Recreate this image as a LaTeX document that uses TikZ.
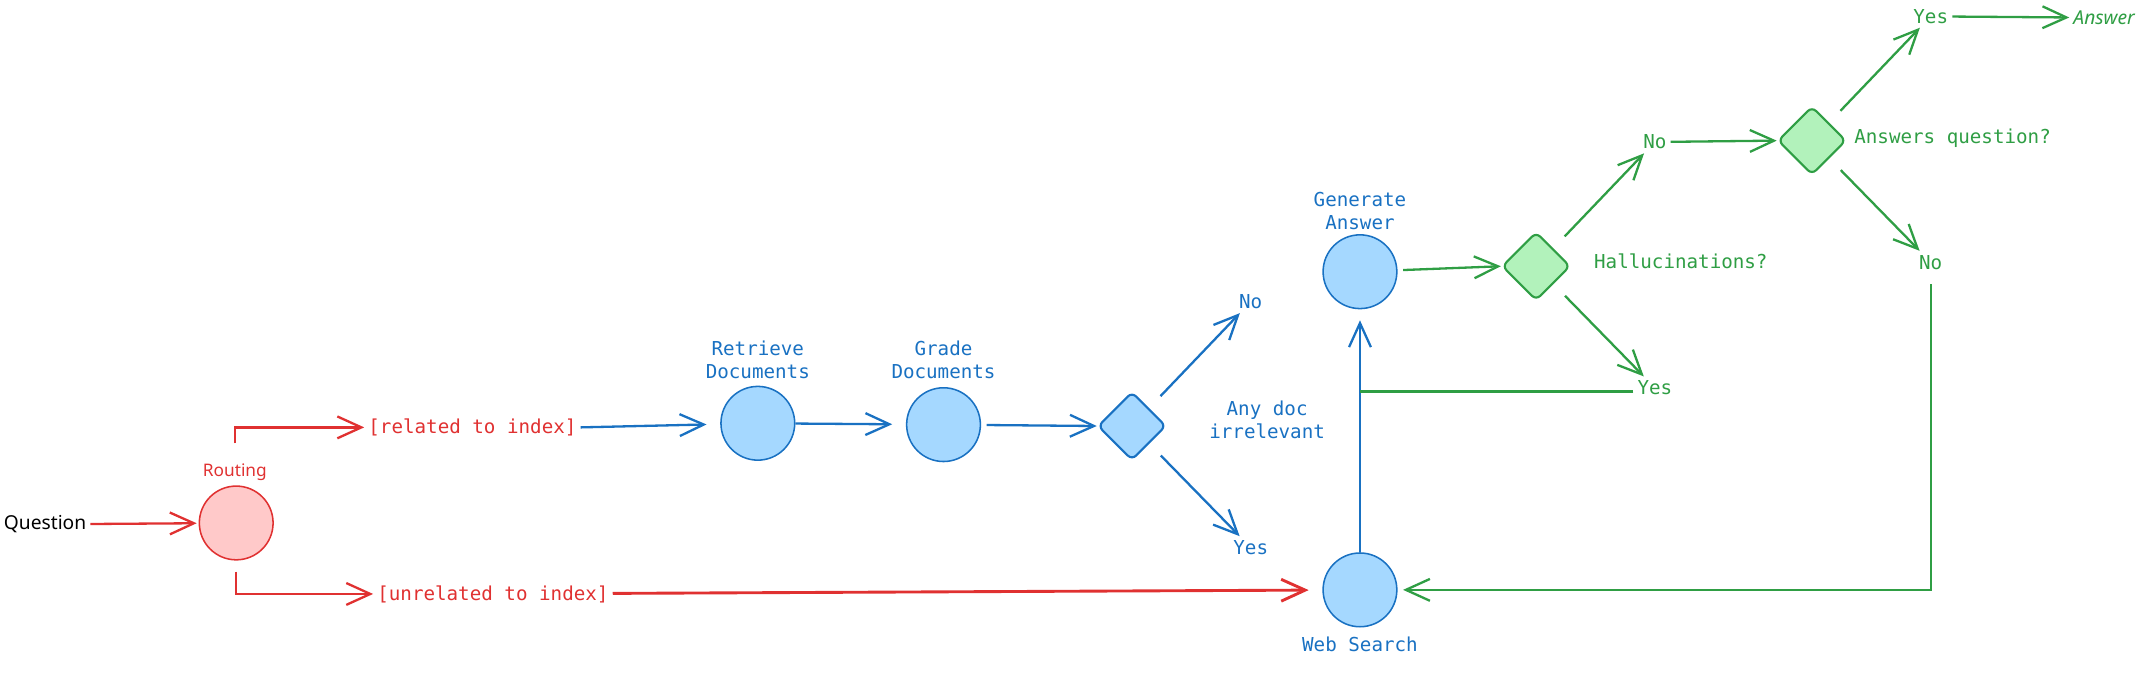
\documentclass[tikz,border=0pt]{standalone}
\usepackage{fontspec}
\setmonofont{DejaVu Sans Mono}
\newfontfamily\handfont{Noto Sans}
\usetikzlibrary{arrows.meta,shapes.geometric}
\definecolor{exred}{HTML}{E03131}
\definecolor{exredfill}{HTML}{FFC9C9}
\definecolor{exblue}{HTML}{1971C2}
\definecolor{exbluefill}{HTML}{A5D8FF}
\definecolor{exgreen}{HTML}{2F9E44}
\definecolor{exgreenfill}{HTML}{B2F2BB}
\tikzset{
  flow/.style={line width=1.2pt, -{Straight Barb[length=4.4mm,width=4mm]}},
  redflow/.style={flow, draw=exred},
  blueflow/.style={flow, draw=exblue},
  greenflow/.style={flow, draw=exgreen},
  state/.style={circle, minimum size=1.35cm, inner sep=0pt, line width=0.8pt},
  check/.style={diamond, minimum size=1.25cm, inner sep=0pt, rounded corners=3pt, line width=1.1pt},
  lbl/.style={font=\ttfamily\fontsize{10}{12}\selectfont, align=center, inner sep=2pt},
  hand/.style={font=\handfont\fontsize{10}{12}\selectfont, inner sep=2pt}
}
\begin{document}
\begin{tikzpicture}[x=0.025cm,y=-0.025cm]
  \useasboundingbox (0,0) rectangle (1568,497);

  % Routing step
  \node[hand, text=black] (question) at (33,384) {Question};
  \node[state, draw=exred, fill=exredfill] (routing) at (173,383) {};
  \node[hand, text=exred, font=\handfont\fontsize{9}{11}\selectfont] (routinglbl) at (172,346) {Routing};
  \node[lbl, text=exred] (related) at (346,313) {[related to index]};
  \node[lbl, text=exred] (unrelated) at (361,435) {[unrelated to index]};

  % Retrieval and grading
  \node[state, draw=exblue, fill=exbluefill] (retrieve) at (555,310) {};
  \node[lbl, text=exblue] at (555,263.5) {Retrieve\\Documents};
  \node[state, draw=exblue, fill=exbluefill] (grade) at (691,311) {};
  \node[lbl, text=exblue] at (691,263.5) {Grade\\Documents};
  \node[check, draw=exblue, fill=exbluefill] (dgrade) at (829,312) {};
  \node[lbl, text=exblue] at (928,307.5) {Any doc\\irrelevant};
  \node[lbl, text=exblue] (noA) at (916,221) {No};
  \node[lbl, text=exblue] (yesA) at (916,401) {Yes};

  % Web search and generation
  \node[state, draw=exblue, fill=exbluefill] (web) at (996,432) {};
  \node[lbl, text=exblue] at (996,472) {Web Search};
  \node[state, draw=exblue, fill=exbluefill] (gen) at (996,199) {};
  \node[lbl, text=exblue] at (996,154.5) {Generate\\Answer};

  % Hallucination check
  \node[check, draw=exgreen, fill=exgreenfill] (dhal) at (1125,195) {};
  \node[lbl, text=exgreen] at (1231,191) {Hallucinations?};
  \node[lbl, text=exgreen] (noH) at (1212,104) {No};
  \node[lbl, text=exgreen] (yesH) at (1212,284) {Yes};

  % Answer check
  \node[check, draw=exgreen, fill=exgreenfill] (dans) at (1327,103) {};
  \node[lbl, text=exgreen] at (1430,101) {Answers question?};
  \node[lbl, text=exgreen] (yesQ) at (1414,12) {Yes};
  \node[lbl, text=exgreen] (noQ) at (1414,192) {No};
  \node[hand, text=exgreen, font=\handfont\itshape\fontsize{10}{12}\selectfont] (answer) at (1541,13) {Answer};

  % Red connectors
  \draw[redflow, shorten >=1pt] (question) -- (routing);
  \draw[redflow, shorten <=0.3cm] (routinglbl.north) |- (related.west);
  \draw[redflow, shorten <=0.2cm] (routing.south) |- (unrelated.west);
  \draw[redflow, line width=1.5pt, shorten >=0.25cm] (unrelated) -- (web);

  % Blue connectors
  \draw[blueflow, shorten >=0.25cm] (related.east) -- (retrieve);
  \draw[blueflow, shorten >=0.25cm] (retrieve) -- (grade);
  \draw[blueflow, shorten <=0.1cm] (grade) -- (dgrade.west);
  \draw[blueflow, shorten <=0.3cm] (dgrade) -- (noA);
  \draw[blueflow, shorten <=0.3cm] (dgrade) -- (yesA);
  \draw[blueflow, shorten >=0.2cm] (web) -- (gen);

  % Green connectors
  \draw[greenflow, shorten <=0.1cm] (gen) -- (dhal.west);
  \draw[greenflow, shorten <=0.3cm] (dhal) -- (noH);
  \draw[greenflow, shorten <=0.3cm] (dhal) -- (yesH);
  \draw[exgreen, line width=1.4pt] ([yshift=-2pt]yesH.west) -- ([yshift=-2pt]yesH.west -| web);
  \draw[greenflow] (noH) -- (dans.west);
  \draw[greenflow, shorten <=0.3cm] (dans) -- (yesQ);
  \draw[greenflow, shorten <=0.3cm] (dans) -- (noQ);
  \draw[greenflow] (yesQ) -- (answer);
  \draw[greenflow, shorten <=0.2cm, shorten >=0.1cm] (noQ.south) |- (web.east);
\end{tikzpicture}
\end{document}
